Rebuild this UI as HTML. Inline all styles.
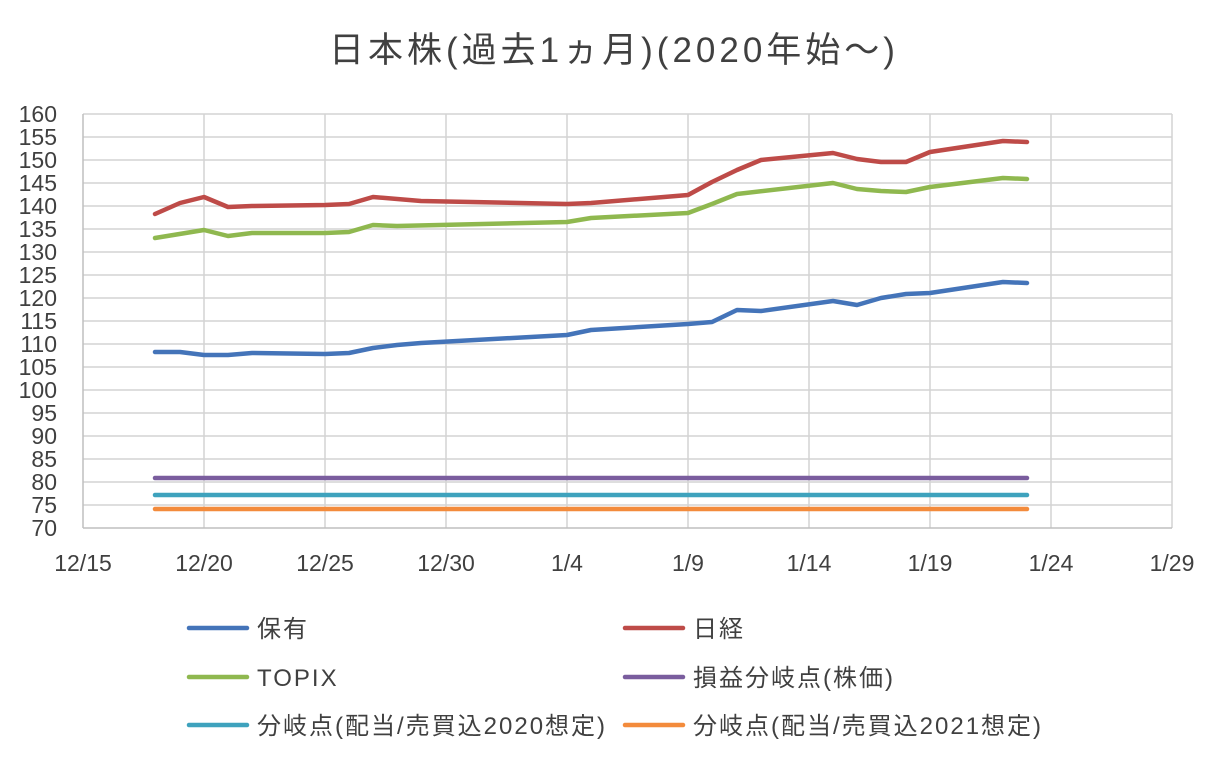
<!DOCTYPE html>
<html><head><meta charset="utf-8"><style>
body{margin:0;background:#fff}
svg text{font-family:"Liberation Sans","Noto Sans CJK JP",sans-serif;fill:#404040}
</style></head><body>
<svg width="1228" height="760" viewBox="0 0 1228 760" xmlns="http://www.w3.org/2000/svg">
<rect width="1228" height="760" fill="#fff"/>
<text x="614" y="62" font-size="35" letter-spacing="4" text-anchor="middle">日本株(過去1ヵ月)(2020年始〜)</text>
<g stroke="#d4d4d4" stroke-width="1.5">
<line x1="83" y1="114" x2="1172" y2="114"/><line x1="83" y1="137" x2="1172" y2="137"/><line x1="83" y1="160" x2="1172" y2="160"/><line x1="83" y1="183" x2="1172" y2="183"/><line x1="83" y1="206" x2="1172" y2="206"/><line x1="83" y1="229" x2="1172" y2="229"/><line x1="83" y1="252" x2="1172" y2="252"/><line x1="83" y1="275" x2="1172" y2="275"/><line x1="83" y1="298" x2="1172" y2="298"/><line x1="83" y1="321" x2="1172" y2="321"/><line x1="83" y1="344" x2="1172" y2="344"/><line x1="83" y1="367" x2="1172" y2="367"/><line x1="83" y1="390" x2="1172" y2="390"/><line x1="83" y1="413" x2="1172" y2="413"/><line x1="83" y1="436" x2="1172" y2="436"/><line x1="83" y1="459" x2="1172" y2="459"/><line x1="83" y1="482" x2="1172" y2="482"/><line x1="83" y1="505" x2="1172" y2="505"/>
<line x1="204" y1="114" x2="204" y2="528"/><line x1="325" y1="114" x2="325" y2="528"/><line x1="446" y1="114" x2="446" y2="528"/><line x1="567" y1="114" x2="567" y2="528"/><line x1="688" y1="114" x2="688" y2="528"/><line x1="809" y1="114" x2="809" y2="528"/><line x1="930" y1="114" x2="930" y2="528"/><line x1="1051" y1="114" x2="1051" y2="528"/><line x1="1172" y1="114" x2="1172" y2="528"/>
</g>
<g stroke="#bfbfbf" stroke-width="1.5"><line x1="83" y1="114" x2="83" y2="528"/><line x1="83" y1="528" x2="1172" y2="528"/></g>
<g font-size="23" text-anchor="end">
<text x="57" y="122">160</text><text x="57" y="145">155</text><text x="57" y="168">150</text><text x="57" y="191">145</text><text x="57" y="214">140</text><text x="57" y="237">135</text><text x="57" y="260">130</text><text x="57" y="283">125</text><text x="57" y="306">120</text><text x="57" y="329">115</text><text x="57" y="352">110</text><text x="57" y="375">105</text><text x="57" y="398">100</text><text x="57" y="421">95</text><text x="57" y="444">90</text><text x="57" y="467">85</text><text x="57" y="490">80</text><text x="57" y="513">75</text><text x="57" y="536">70</text>
</g>
<g font-size="23" text-anchor="middle">
<text x="83" y="571">12/15</text><text x="204" y="571">12/20</text><text x="325" y="571">12/25</text><text x="446" y="571">12/30</text><text x="567" y="571">1/4</text><text x="688" y="571">1/9</text><text x="809" y="571">1/14</text><text x="930" y="571">1/19</text><text x="1051" y="571">1/24</text><text x="1172" y="571">1/29</text>
</g>
<g fill="none" stroke-width="4.5" stroke-linecap="round" stroke-linejoin="round">
<polyline stroke="#be4b48" points="155,214 180,203 204,197 228,207 252,206 325,205 349,204 373,197 421,201 567,204 591,203 664,197 688,195 712,182 737,170 761,160 833,153 857,159 881,162 906,162 930,152 1003,141 1027,142"/>
<polyline stroke="#8fb84f" points="155,238 204,230 228,236 252,233 325,233 349,232 373,225 397,226 567,222 591,218 688,213 712,204 737,194 833,183 857,189 881,191 906,192 930,187 1003,178 1027,179"/>
<polyline stroke="#4474b9" points="155,352 180,352 204,355 228,355 252,353 325,354 349,353 373,348 397,345 421,343 567,335 591,330 688,324 712,322 737,310 761,311 833,301 857,305 881,298 906,294 930,293 1003,282 1027,283"/>
<line stroke="#7a5d9e" x1="155" y1="478" x2="1027" y2="478"/>
<line stroke="#3ea2bd" x1="155" y1="495" x2="1027" y2="495"/>
<line stroke="#f38b3c" x1="155" y1="509" x2="1027" y2="509"/>
<line stroke="#4474b9" x1="189" y1="628" x2="247" y2="628"/>
<line stroke="#be4b48" x1="625" y1="628" x2="683" y2="628"/>
<line stroke="#8fb84f" x1="189" y1="677" x2="247" y2="677"/>
<line stroke="#7a5d9e" x1="625" y1="677" x2="683" y2="677"/>
<line stroke="#3ea2bd" x1="189" y1="725" x2="247" y2="725"/>
<line stroke="#f38b3c" x1="625" y1="725" x2="683" y2="725"/>
</g>
<g font-size="24" letter-spacing="2">
<text x="257" y="637">保有</text><text x="693" y="637">日経</text>
<text x="257" y="686">TOPIX</text><text x="693" y="686">損益分岐点(株価)</text>
<text x="257" y="734">分岐点(配当/売買込2020想定)</text><text x="693" y="734">分岐点(配当/売買込2021想定)</text>
</g>
</svg>
</body></html>
